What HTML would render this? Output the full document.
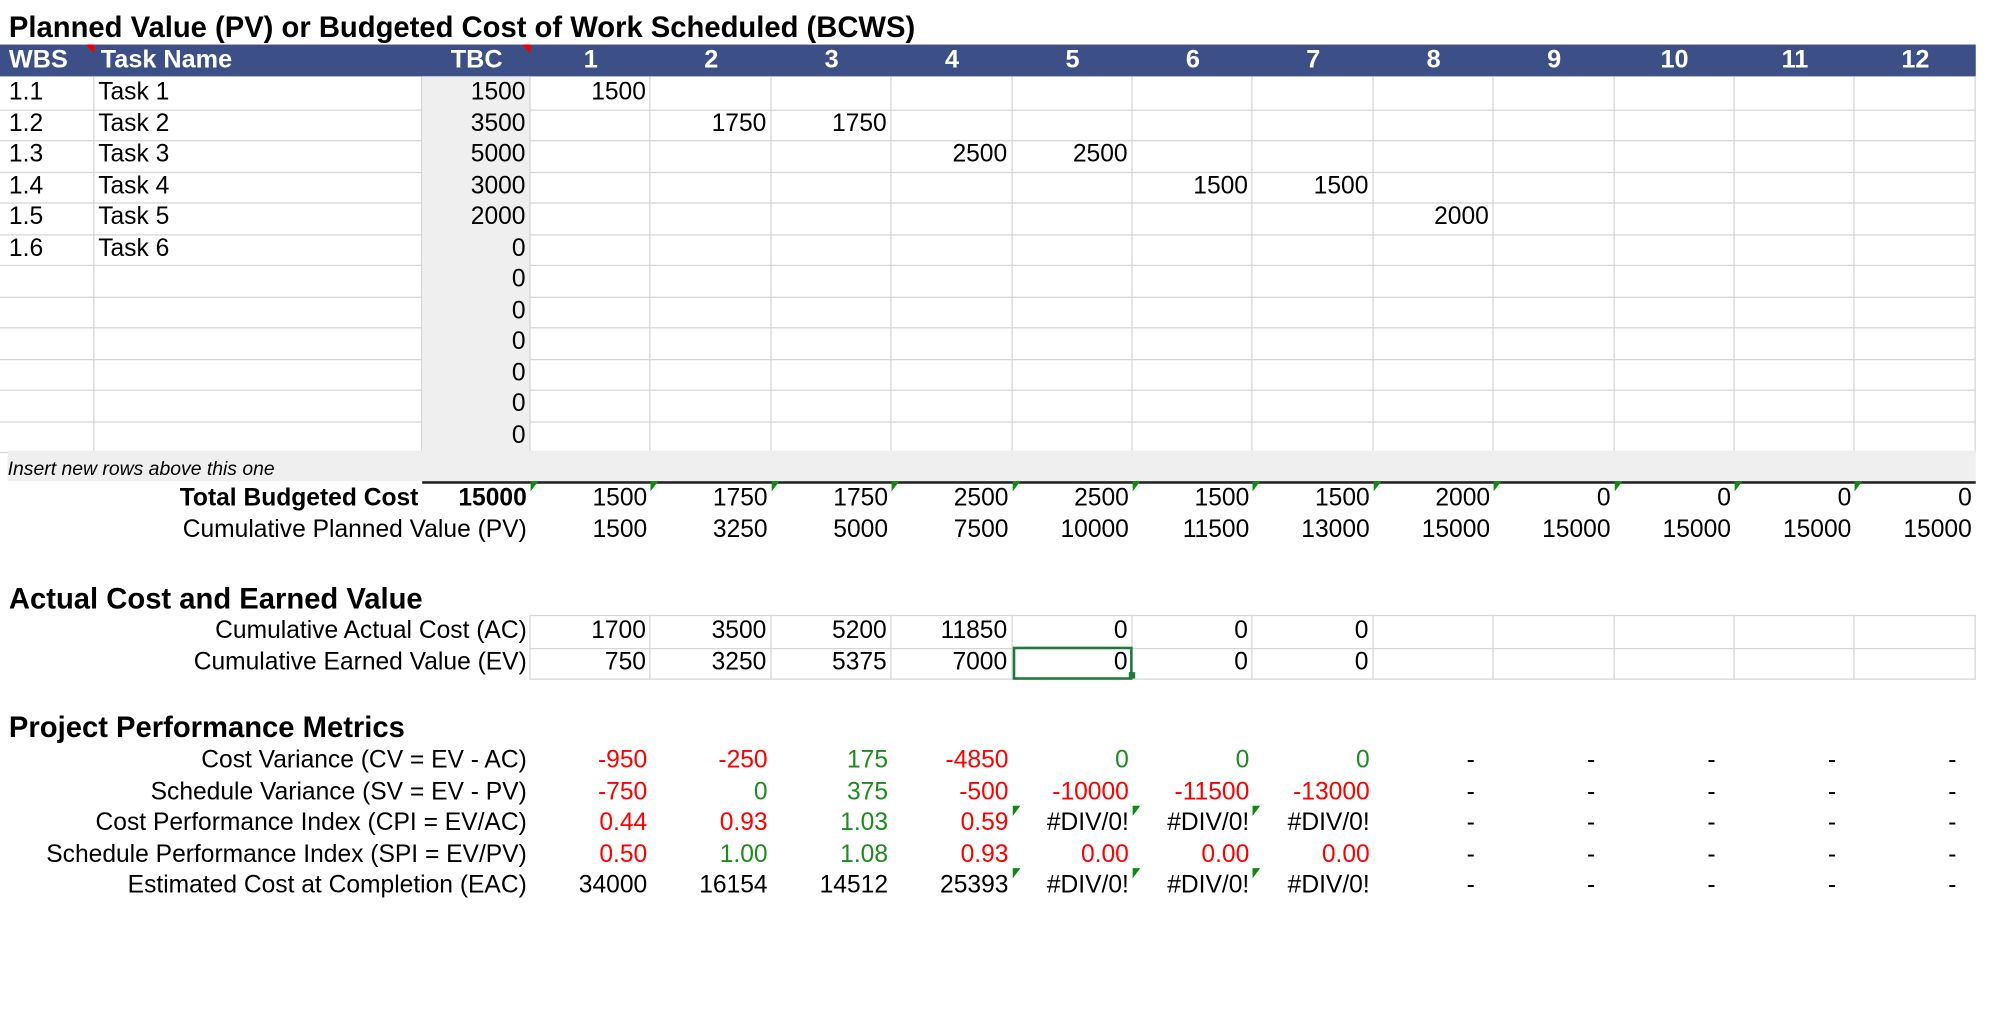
<!DOCTYPE html>
<html><head><meta charset="utf-8"><style>
*{margin:0;padding:0;box-sizing:border-box}
html,body{width:1999px;height:1023px;overflow:hidden;background:#fff}
#w{position:absolute;left:0;top:0;width:1570px;height:805px;transform:scale(1.2755,1.273);transform-origin:0 0;font-family:"Liberation Sans",Arial,sans-serif;color:#000}
.t{position:absolute;left:7px;font-weight:bold;font-size:22.9px;line-height:24px}
.r{position:absolute;left:0;width:1549px;height:24.5px;display:grid;grid-template-columns:74px 257px 85px repeat(12,94.42px);font-size:19.3px;line-height:25.5px}
.r>div{padding:0 3px;white-space:nowrap;overflow:visible;position:relative}
.r>div:first-child{padding-left:7px}
.g>div{border-bottom:1px solid #d6d6d6;border-right:1px solid #d6d6d6}
.g>div.n{text-align:right}
.tb{background:#efefef}
.h{background:#3c5087;color:#fff;font-weight:bold;font-size:19.8px}
.h>div{text-align:center}
.rt{text-align:right}
.red{color:#f00}.grn{color:#1f8a1f}
.tri:before{content:"";position:absolute;left:0;top:-1px;border-top:8px solid #118811;border-right:6px solid transparent}
.trr:after{content:"";position:absolute;right:0;top:0;border-top:7px solid #e00;border-left:7px solid transparent}
.bx>div{border-right:1px solid #d6d6d6;border-bottom:1px solid #d6d6d6}
.d{text-align:right;padding-right:15px!important}
</style></head><body><div id="w">
<div class="t" style="top:9px">Planned Value (PV) or Budgeted Cost of Work Scheduled (BCWS)</div>

<div class="r h" style="top:35px;height:25px;line-height:25px"><div class="trr" style="text-align:left">WBS</div><div style="text-align:left;padding-left:5px">Task Name</div><div class="trr" style="text-align:right;padding-right:22px">TBC</div><div>1</div><div>2</div><div>3</div><div>4</div><div>5</div><div>6</div><div>7</div><div>8</div><div>9</div><div>10</div><div>11</div><div>12</div></div>

<div class="r g" style="top:60px"><div>1.1</div><div>Task 1</div><div class="n tb">1500</div><div class="n">1500</div><div></div><div></div><div></div><div></div><div></div><div></div><div></div><div></div><div></div><div></div><div></div></div>
<div class="r g" style="top:84.5px"><div>1.2</div><div>Task 2</div><div class="n tb">3500</div><div></div><div class="n">1750</div><div class="n">1750</div><div></div><div></div><div></div><div></div><div></div><div></div><div></div><div></div><div></div></div>
<div class="r g" style="top:109px"><div>1.3</div><div>Task 3</div><div class="n tb">5000</div><div></div><div></div><div></div><div class="n">2500</div><div class="n">2500</div><div></div><div></div><div></div><div></div><div></div><div></div><div></div></div>
<div class="r g" style="top:133.5px"><div>1.4</div><div>Task 4</div><div class="n tb">3000</div><div></div><div></div><div></div><div></div><div></div><div class="n">1500</div><div class="n">1500</div><div></div><div></div><div></div><div></div><div></div></div>
<div class="r g" style="top:158px"><div>1.5</div><div>Task 5</div><div class="n tb">2000</div><div></div><div></div><div></div><div></div><div></div><div></div><div></div><div class="n">2000</div><div></div><div></div><div></div><div></div></div>
<div class="r g" style="top:182.5px"><div>1.6</div><div>Task 6</div><div class="n tb">0</div><div></div><div></div><div></div><div></div><div></div><div></div><div></div><div></div><div></div><div></div><div></div><div></div></div>
<div class="r g" style="top:207px"><div></div><div></div><div class="n tb">0</div><div></div><div></div><div></div><div></div><div></div><div></div><div></div><div></div><div></div><div></div><div></div><div></div></div>
<div class="r g" style="top:231.5px"><div></div><div></div><div class="n tb">0</div><div></div><div></div><div></div><div></div><div></div><div></div><div></div><div></div><div></div><div></div><div></div><div></div></div>
<div class="r g" style="top:256px"><div></div><div></div><div class="n tb">0</div><div></div><div></div><div></div><div></div><div></div><div></div><div></div><div></div><div></div><div></div><div></div><div></div></div>
<div class="r g" style="top:280.5px"><div></div><div></div><div class="n tb">0</div><div></div><div></div><div></div><div></div><div></div><div></div><div></div><div></div><div></div><div></div><div></div><div></div></div>
<div class="r g" style="top:305px"><div></div><div></div><div class="n tb">0</div><div></div><div></div><div></div><div></div><div></div><div></div><div></div><div></div><div></div><div></div><div></div><div></div></div>
<div class="r g" style="top:329.5px"><div></div><div></div><div class="n tb">0</div><div></div><div></div><div></div><div></div><div></div><div></div><div></div><div></div><div></div><div></div><div></div><div></div></div>

<div style="position:absolute;left:6px;top:354px;width:1543px;height:24px;background:#efefef;font-size:15.2px;font-style:italic;line-height:29px;padding-left:0">Insert new rows above this one</div>
<div style="position:absolute;left:331px;top:378px;width:1218px;height:1.5px;background:#222"></div>

<div class="r" style="top:379px"><div></div><div class="rt" style="font-weight:bold">Total Budgeted Cost</div><div class="rt" style="font-weight:bold">15000</div><div class="rt tri">1500</div><div class="rt tri">1750</div><div class="rt tri">1750</div><div class="rt tri">2500</div><div class="rt tri">2500</div><div class="rt tri">1500</div><div class="rt tri">1500</div><div class="rt tri">2000</div><div class="rt tri">0</div><div class="rt tri">0</div><div class="rt tri">0</div><div class="rt tri">0</div></div>
<div class="r" style="top:403.5px"><div></div><div></div><div></div><div class="rt">1500</div><div class="rt">3250</div><div class="rt">5000</div><div class="rt">7500</div><div class="rt">10000</div><div class="rt">11500</div><div class="rt">13000</div><div class="rt">15000</div><div class="rt">15000</div><div class="rt">15000</div><div class="rt">15000</div><div class="rt">15000</div></div>
<div style="position:absolute;right:1157px;top:403.5px;font-size:19.3px;line-height:25.5px;white-space:nowrap">Cumulative Planned Value (PV)</div>

<div class="t" style="top:458px">Actual Cost and Earned Value</div>
<div style="position:absolute;left:416px;top:483px;width:1133px;height:1px;background:#d6d6d6"></div>
<div class="r bx" style="top:483px"><div style="border:none"></div><div style="border:none"></div><div style="border:none;border-right:1px solid #d6d6d6"></div><div class="rt">1700</div><div class="rt">3500</div><div class="rt">5200</div><div class="rt">11850</div><div class="rt">0</div><div class="rt">0</div><div class="rt">0</div><div></div><div></div><div></div><div></div><div></div></div>
<div class="r bx" style="top:507.5px"><div style="border:none"></div><div style="border:none"></div><div style="border:none;border-right:1px solid #d6d6d6"></div><div class="rt">750</div><div class="rt">3250</div><div class="rt">5375</div><div class="rt">7000</div><div class="rt" style="outline:2px solid #1e7a3c;outline-offset:-2px">0</div><div class="rt">0</div><div class="rt">0</div><div></div><div></div><div></div><div></div><div></div></div>
<div style="position:absolute;right:1157px;top:483px;font-size:19.3px;line-height:24.5px;padding-top:1px;white-space:nowrap;text-align:right">Cumulative Actual Cost (AC)<br>Cumulative Earned Value (EV)</div>
<div style="position:absolute;left:885px;top:528px;width:5px;height:5px;background:#1e7a3c"></div>

<div class="t" style="top:559px">Project Performance Metrics</div>
<div style="position:absolute;right:1157px;top:585px;font-size:19.3px;line-height:24.5px;padding-top:1px;white-space:nowrap;text-align:right">Cost Variance (CV = EV - AC)<br>Schedule Variance (SV = EV - PV)<br>Cost Performance Index (CPI = EV/AC)<br>Schedule Performance Index (SPI = EV/PV)<br>Estimated Cost at Completion (EAC)</div>
<div class="r" style="top:585px"><div></div><div></div><div></div><div class="rt red">-950</div><div class="rt red">-250</div><div class="rt grn">175</div><div class="rt red">-4850</div><div class="rt grn">0</div><div class="rt grn">0</div><div class="rt grn">0</div><div class="d">-</div><div class="d">-</div><div class="d">-</div><div class="d">-</div><div class="d">-</div></div>
<div class="r" style="top:609.5px"><div></div><div></div><div></div><div class="rt red">-750</div><div class="rt grn">0</div><div class="rt grn">375</div><div class="rt red">-500</div><div class="rt red">-10000</div><div class="rt red">-11500</div><div class="rt red">-13000</div><div class="d">-</div><div class="d">-</div><div class="d">-</div><div class="d">-</div><div class="d">-</div></div>
<div class="r" style="top:634px"><div></div><div></div><div></div><div class="rt red">0.44</div><div class="rt red">0.93</div><div class="rt grn">1.03</div><div class="rt red">0.59</div><div class="rt tri">#DIV/0!</div><div class="rt tri">#DIV/0!</div><div class="rt tri">#DIV/0!</div><div class="d">-</div><div class="d">-</div><div class="d">-</div><div class="d">-</div><div class="d">-</div></div>
<div class="r" style="top:658.5px"><div></div><div></div><div></div><div class="rt red">0.50</div><div class="rt grn">1.00</div><div class="rt grn">1.08</div><div class="rt red">0.93</div><div class="rt red">0.00</div><div class="rt red">0.00</div><div class="rt red">0.00</div><div class="d">-</div><div class="d">-</div><div class="d">-</div><div class="d">-</div><div class="d">-</div></div>
<div class="r" style="top:683px"><div></div><div></div><div></div><div class="rt">34000</div><div class="rt">16154</div><div class="rt">14512</div><div class="rt">25393</div><div class="rt tri">#DIV/0!</div><div class="rt tri">#DIV/0!</div><div class="rt tri">#DIV/0!</div><div class="d">-</div><div class="d">-</div><div class="d">-</div><div class="d">-</div><div class="d">-</div></div>
</div></body></html>
